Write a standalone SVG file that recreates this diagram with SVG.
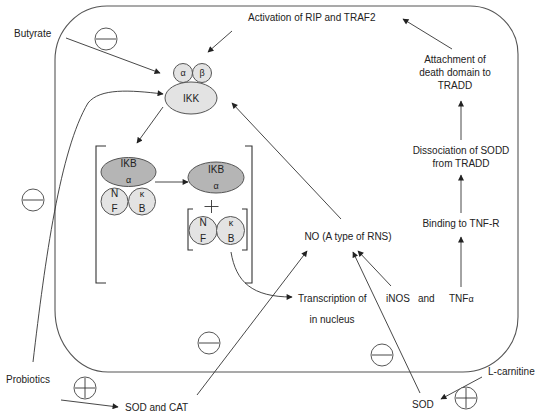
<svg xmlns="http://www.w3.org/2000/svg" width="539" height="416" viewBox="0 0 539 416">
<defs>
<marker id="ah" viewBox="0 0 10 10" refX="9" refY="5" markerWidth="7" markerHeight="6" markerUnits="userSpaceOnUse" orient="auto">
<path d="M0,0 L10,5 L0,10 Z" fill="#222"/>
</marker>
<style>
text{font-family:"Liberation Sans",Arial,sans-serif;font-size:10px;fill:#222}
.c{text-anchor:middle}
.s{font-size:9px}
.ln{fill:none;stroke:#333;stroke-width:0.9}
.ar{fill:none;stroke:#333;stroke-width:0.9;marker-end:url(#ah)}
.lt{fill:#e3e3e3;stroke:#555;stroke-width:1}
.dk{fill:#b5b5b5;stroke:#555;stroke-width:1}
.sym{fill:#fff;stroke:#444;stroke-width:0.9}
.br{fill:none;stroke:#333;stroke-width:1.1}
</style>
</defs>
<rect width="539" height="416" fill="#fff"/>
<g id="cell"><path d="M107,6 H470 A48,48 0 0 1 518,54 V317 A55,55 0 0 1 463,372 H108 A53,62 0 0 1 55,310 V60 A52,54 0 0 1 107,6 Z" fill="none" stroke="#555" stroke-width="1.1"/></g>

<g id="connectors">
<line class="ar" x1="66" y1="38" x2="160" y2="73"/>
<line class="ar" x1="232" y1="31" x2="208" y2="52"/>
<path class="ar" d="M33,362 C45,260 60,150 88,103 C100,88 130,90 163,94"/>
<line class="ar" x1="163" y1="107" x2="137" y2="143"/>
<line class="ar" x1="155" y1="182" x2="188" y2="182"/>
<path class="ar" d="M231,252 C236,282 252,297 292,297"/>
<line class="ar" x1="341" y1="219" x2="232" y2="103"/>
<line class="ar" x1="197" y1="395" x2="307" y2="251"/>
<line class="ar" x1="420" y1="393" x2="353" y2="252"/>
<line class="ar" x1="391" y1="286" x2="358" y2="251"/>
<line class="ar" x1="452" y1="49" x2="403" y2="19"/>
<line class="ar" x1="461" y1="140" x2="461" y2="101"/>
<line class="ar" x1="461" y1="213" x2="461" y2="175"/>
<line class="ar" x1="461" y1="287" x2="461" y2="237"/>
<line class="ar" x1="61" y1="400" x2="118" y2="407"/>
<line class="ar" x1="482" y1="377" x2="441" y2="399"/>
</g>

<g id="ikk">
<circle class="lt" cx="183" cy="73" r="9.5"/>
<circle class="lt" cx="202" cy="73" r="9.5"/>
<text class="c s" x="183" y="76">α</text>
<text class="c s" x="202" y="76">β</text>
<ellipse class="lt" cx="191" cy="98" rx="26" ry="16"/>
<text class="c" x="191" y="102">IKK</text>
</g>

<g id="complex">
<path class="br" d="M106,146 H96 V283 H106"/>
<path class="br" d="M245,146 H252 V283 H245"/>
<ellipse class="dk" cx="128.5" cy="172" rx="27.5" ry="14.5"/>
<text class="c" x="128.5" y="167">IKB</text>
<text class="c s" x="128.5" y="183">α</text>
<circle class="lt" cx="114.5" cy="201.5" r="13.5"/>
<circle class="lt" cx="142" cy="201.5" r="13.5"/>
<text class="c" x="114.5" y="197">N</text>
<text class="c" x="114.5" y="212">F</text>
<text class="c s" x="142" y="197">κ</text>
<text class="c" x="142" y="212">B</text>
</g>

<g id="ikb2">
<ellipse class="dk" cx="216" cy="177.5" rx="28" ry="15.5"/>
<text class="c" x="216" y="173">IKB</text>
<text class="c s" x="216" y="189">α</text>
<path class="ln" d="M211.5,200 V213 M204.5,206.5 H218.5" stroke-width="1"/>
</g>

<g id="nfkb">
<path class="br" d="M193,209 H188 V250 H193"/>
<path class="br" d="M242,209 H247 V250 H242"/>
<circle class="lt" cx="203" cy="230.5" r="14"/>
<circle class="lt" cx="230.5" cy="230.5" r="14"/>
<text class="c" x="203" y="226">N</text>
<text class="c" x="203" y="242">F</text>
<text class="c s" x="231" y="226">κ</text>
<text class="c" x="231" y="242">B</text>
</g>

<g id="labels">
<text x="14" y="37">Butyrate</text>
<text x="248" y="21">Activation of RIP and TRAF2</text>
<text class="c" x="455" y="63">Attachment of</text>
<text class="c" x="455" y="76">death domain to</text>
<text class="c" x="455" y="89">TRADD</text>
<text class="c" x="461" y="154">Dissociation of SODD</text>
<text class="c" x="461" y="167">from TRADD</text>
<text class="c" x="461" y="227">Binding to TNF-R</text>
<text class="c" x="348" y="240">NO (A type of RNS)</text>
<text x="298" y="302">Transcription of</text>
<text class="c" x="332" y="323">in nucleus</text>
<text x="386" y="302">iNOS</text>
<text x="418" y="302">and</text>
<text x="449" y="302">TNF<tspan class="s">α</tspan></text>
<text x="6" y="383">Probiotics</text>
<text x="125" y="411">SOD and CAT</text>
<text x="412" y="408">SOD</text>
<text x="488" y="375">L-carnitine</text>
</g>

<g id="symbols">
<circle class="sym" cx="106" cy="39" r="11"/><path class="ln" d="M96,39 H116"/>
<circle class="sym" cx="33" cy="200" r="11"/><path class="ln" d="M23,200 H43"/>
<circle class="sym" cx="209" cy="343" r="11"/><path class="ln" d="M199,343 H219"/>
<circle class="sym" cx="382" cy="355" r="11"/><path class="ln" d="M372,355 H392"/>
<circle class="sym" cx="85" cy="388" r="11"/><path class="ln" d="M75,388 H95 M85,378 V398"/>
<circle class="sym" cx="466" cy="398" r="11"/><path class="ln" d="M456,398 H476 M466,388 V408"/>
</g>
</svg>
